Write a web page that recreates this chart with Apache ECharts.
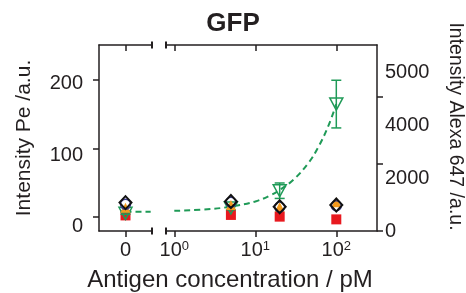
<!DOCTYPE html>
<html>
<head>
<meta charset="utf-8">
<script src="https://cdn.jsdelivr.net/npm/echarts@6/dist/echarts.min.js"></script>
<style>
  html, body { margin: 0; padding: 0; background: #fff; }
  #chart { width: 466px; height: 293px; }
</style>
</head>
<body>
<div id="chart"></div>
<script>
// concentrations in pM; 0 goes into the small left piece of the broken axis
const conc = [0, 5, 20, 100];

// Pe intensity (left axis)
const peSquare = [1.8, 2.5, 0, -4];
const peTriangle = [13, 17, 14, 21];
const peCircle = [18, 21, 14, 16];
const peDiamond = [20.5, 22, 14.6, 17];

// Alexa 647 intensity (right axis) with error bars
const alexa = [527, 685, 1200, 3780];
const alexaErr = [30, 50, 230, 710];

// dashed fit
const fitConc = [1, 3, 6, 10, 15, 20, 30, 45, 60, 80, 100];
const fitAlexa = [600, 660, 760, 880, 1050, 1220, 1540, 2020, 2500, 3140, 3780];
const fitZeroX = [0, 0.95];
const fitZeroY = [575, 575];

// ticks and their labels
const leftTicks = [0, 100, 200];
const rightTicks = [0, 2000, 4000];
const rightTickLabels = ['0', '2000', '4000', '5000'];
const logTicks = [1, 10, 100];
const supText = { 1: '0', 10: '1', 100: '2' };

// layout
const TOP = 45, BOTTOM = 231;
const A_LEFT = 99, A_RIGHT = 152;
const B_LEFT = 166, B_RIGHT = 377;
const INK = '#231f20';
const GREEN = '#1f9a57';
const FONT = '"Liberation Sans", Arial, sans-serif';

const chart = echarts.init(document.getElementById('chart'), null, { renderer: 'canvas' });

function split(values) {
  const a = [], b = [];
  conc.forEach((c, i) => (c === 0 ? a : b).push([c, values[i]]));
  return [a, b];
}

// one scatter series per axis piece
function scatter(values, style, yA, yB, z) {
  const [a, b] = split(values);
  return [
    Object.assign({ type: 'scatter', xAxisIndex: 0, yAxisIndex: yA, data: a, z: z, silent: true }, style),
    Object.assign({ type: 'scatter', xAxisIndex: 2, yAxisIndex: yB, data: b, z: z, silent: true }, style)
  ];
}

function errorBars(xIdx, yIdx, data) {
  return {
    type: 'custom', xAxisIndex: xIdx, yAxisIndex: yIdx, z: 3, silent: true,
    encode: { x: 0, y: 1 },
    data: data,
    renderItem(params, api) {
      const x = api.value(0), v = api.value(1), e = api.value(2);
      const p1 = api.coord([x, v + e]);
      const p2 = api.coord([x, v - e]);
      const w = 5;
      const st = { stroke: GREEN, lineWidth: 1.5, fill: null };
      return {
        type: 'group',
        children: [
          { type: 'line', shape: { x1: p1[0], y1: p1[1], x2: p2[0], y2: p2[1] }, style: st },
          { type: 'line', shape: { x1: p1[0] - w, y1: p1[1], x2: p1[0] + w, y2: p1[1] }, style: st },
          { type: 'line', shape: { x1: p2[0] - w, y1: p2[1], x2: p2[0] + w, y2: p2[1] }, style: st }
        ]
      };
    }
  };
}

const errA = [], errB = [];
conc.forEach((c, i) => (c === 0 ? errA : errB).push([c, alexa[i], alexaErr[i]]));

const axisLine = { show: true, onZero: false, lineStyle: { color: INK, width: 1.5 } };
const tickStyle = { color: INK, width: 1.5 };
const labelStyle = { color: INK, fontSize: 20, fontFamily: FONT };

const option = {
  animation: false,
  backgroundColor: '#fff',
  title: {
    text: 'GFP', left: 'center', top: 6,
    textStyle: { fontSize: 26, fontWeight: 'bold', color: INK, fontFamily: FONT }
  },
  grid: [
    { left: A_LEFT, top: TOP, width: A_RIGHT - A_LEFT, height: BOTTOM - TOP, outerBoundsMode: 'none' },
    { left: B_LEFT, top: TOP, width: B_RIGHT - B_LEFT, height: BOTTOM - TOP, outerBoundsMode: 'none' }
  ],
  xAxis: [
    { gridIndex: 0, type: 'value', position: 'bottom', min: -1, max: 1,
      axisLine: axisLine, splitLine: { show: false },
      axisTick: { show: true, customValues: [0], length: 6, lineStyle: tickStyle },
      axisLabel: Object.assign({ customValues: [0], margin: 9, formatter: v => String(v) }, labelStyle) },
    { gridIndex: 0, type: 'value', position: 'top', min: -1, max: 1,
      axisLine: axisLine, splitLine: { show: false },
      axisTick: { show: true, inside: true, customValues: [0], length: 6, lineStyle: tickStyle },
      axisLabel: { show: false } },
    { gridIndex: 1, type: 'log', logBase: 10, position: 'bottom', min: 0.79, max: 318,
      axisLine: axisLine, splitLine: { show: false }, minorTick: { show: false },
      axisTick: { show: true, customValues: logTicks, length: 6, lineStyle: tickStyle },
      axisLabel: Object.assign({
        customValues: logTicks, margin: 9,
        formatter: v => '10{s|' + supText[Math.round(v)] + '}',
        rich: { s: { fontSize: 13, fontFamily: FONT, color: INK, verticalAlign: 'top', padding: [0, 0, 8, 0] } }
      }, labelStyle) },
    { gridIndex: 1, type: 'log', logBase: 10, position: 'top', min: 0.79, max: 318,
      axisLine: axisLine, splitLine: { show: false }, minorTick: { show: false },
      axisTick: { show: true, inside: true, customValues: logTicks, length: 6, lineStyle: tickStyle },
      axisLabel: { show: false } }
  ],
  yAxis: [
    // 0: Pe scale, left piece
    { gridIndex: 0, type: 'value', position: 'left', min: -21, max: 251,
      axisLine: axisLine, splitLine: { show: false },
      axisTick: { show: true, customValues: leftTicks, length: 6, lineStyle: tickStyle },
      axisLabel: { show: false } },
    // 1: Pe tick labels (they sit a bit lower than the ticks in the original)
    { gridIndex: 0, type: 'value', position: 'left', min: -6, max: 253.4,
      axisLine: { show: false }, axisTick: { show: false }, splitLine: { show: false },
      axisLabel: Object.assign({ customValues: leftTicks, margin: 16 }, labelStyle) },
    // 2: Alexa scale in the left piece (hidden)
    { gridIndex: 0, type: 'value', min: 0, max: 5540, show: false },
    // 3: Alexa scale, right
    { gridIndex: 1, type: 'value', position: 'right', min: 0, max: 5540,
      axisLine: axisLine, splitLine: { show: false },
      axisTick: { show: true, customValues: rightTicks, length: 6, lineStyle: tickStyle },
      axisLabel: { show: false } },
    // 4: Alexa tick labels, unevenly placed in the original
    { gridIndex: 1, type: 'value', position: 'right', min: 0, max: 3.52,
      axisLine: { show: false }, axisTick: { show: false }, splitLine: { show: false },
      axisLabel: Object.assign({ customValues: rightTickLabels.map((s, i) => i), margin: 8,
        formatter: v => rightTickLabels[Math.round(v)] }, labelStyle) },
    // 5: Pe scale in the right piece (hidden)
    { gridIndex: 1, type: 'value', min: -21, max: 251, show: false }
  ],
  graphic: [
    { type: 'text', x: 24, y: 138, rotation: Math.PI / 2, silent: true,
      style: { text: 'Intensity Pe /a.u.', fill: INK, font: '21px ' + FONT, textAlign: 'center', textVerticalAlign: 'middle' } },
    { type: 'text', x: 455, y: 126.5, rotation: -Math.PI / 2, silent: true,
      style: { text: 'Intensity Alexa 647 /a.u.', fill: INK, font: '19.5px ' + FONT, textAlign: 'center', textVerticalAlign: 'middle' } },
    { type: 'text', x: 230, y: 280, silent: true,
      style: { text: 'Antigen concentration / pM', fill: INK, font: '24px ' + FONT, textAlign: 'center', textVerticalAlign: 'middle' } },
    // break marks
    { type: 'line', silent: true, shape: { x1: A_RIGHT, y1: TOP - 3.5, x2: A_RIGHT, y2: TOP + 3.5 }, style: { stroke: INK, lineWidth: 2 } },
    { type: 'line', silent: true, shape: { x1: B_LEFT, y1: TOP - 3.5, x2: B_LEFT, y2: TOP + 3.5 }, style: { stroke: INK, lineWidth: 2 } },
    { type: 'line', silent: true, shape: { x1: A_RIGHT, y1: BOTTOM - 3.5, x2: A_RIGHT, y2: BOTTOM + 3.5 }, style: { stroke: INK, lineWidth: 2 } },
    { type: 'line', silent: true, shape: { x1: B_LEFT, y1: BOTTOM - 3.5, x2: B_LEFT, y2: BOTTOM + 3.5 }, style: { stroke: INK, lineWidth: 2 } }
  ],
  series: [
    ...scatter(peSquare, { symbol: 'rect', symbolSize: 10, itemStyle: { color: '#e8191f', opacity: 1 } }, 0, 5, 2),
    { type: 'line', xAxisIndex: 0, yAxisIndex: 2, z: 3, silent: true, symbol: 'none',
      data: fitZeroX.map((x, i) => [x, fitZeroY[i]]),
      lineStyle: { color: GREEN, width: 2, type: [6, 4] } },
    { type: 'line', xAxisIndex: 2, yAxisIndex: 3, z: 3, silent: true, symbol: 'none', smooth: 0.4,
      data: fitConc.map((x, i) => [x, fitAlexa[i]]),
      lineStyle: { color: GREEN, width: 2, type: [6, 4] } },
    errorBars(0, 2, errA),
    errorBars(2, 3, errB),
    ...scatter(alexa, { symbol: 'triangle', symbolRotate: 180, symbolSize: [13, 12],
      itemStyle: { color: 'rgba(0,0,0,0)', borderColor: GREEN, borderWidth: 1.5, opacity: 1 } }, 2, 3, 3),
    ...scatter(peTriangle, { symbol: 'triangle', symbolSize: 10, itemStyle: { color: '#f39a1e', opacity: 1 } }, 0, 5, 4),
    ...scatter(peCircle, { symbol: 'circle', symbolSize: 10,
      itemStyle: { color: 'rgba(0,0,0,0)', borderColor: '#3d3b8e', borderWidth: 1.5, opacity: 1 } }, 0, 5, 5),
    ...scatter(peDiamond, { symbol: 'diamond', symbolSize: [12, 13],
      itemStyle: { color: 'rgba(0,0,0,0)', borderColor: '#111', borderWidth: 2, opacity: 1 } }, 0, 5, 6)
  ]
};

chart.setOption(option);
</script>
</body>
</html>
